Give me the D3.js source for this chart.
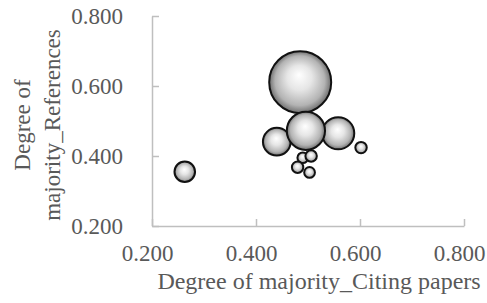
<!DOCTYPE html>
<html><head><meta charset="utf-8">
<script src="https://cdn.jsdelivr.net/npm/d3@7"></script>
<style>html,body{margin:0;padding:0;background:#fff;} svg{display:block;}</style>
</head><body>
<script>
const xValues = [0.485, 0.440, 0.558, 0.496, 0.602, 0.263, 0.490, 0.506, 0.480, 0.503];
const yValues = [0.611, 0.441, 0.465, 0.472, 0.424, 0.355, 0.395, 0.400, 0.368, 0.353];
const sizes   = [100, 20, 27, 38, 3.4, 11, 3, 3.4, 3.4, 3];
const xTicks = [0.2, 0.4, 0.6, 0.8];
const yTicks = [0.2, 0.4, 0.6, 0.8];
const xTitle = "Degree of majority_Citing papers";
const yTitle = ["Degree of", "majority_References"];

const W = 487, H = 303;
const FONT = "Liberation Serif";
const svg = d3.select("body").append("svg").attr("width", W).attr("height", H);
const x = d3.scaleLinear().domain([0.2, 0.8]).range([152, 464]);
const y = d3.scaleLinear().domain([0.2, 0.8]).range([226, 16]);
const r = d3.scaleSqrt().domain([0, 100]).range([0, 31]);

const defs = svg.append("defs");
const g = defs.append("radialGradient").attr("id", "ball")
  .attr("cx", "50%").attr("cy", "50%").attr("r", "50%").attr("fx", "48%").attr("fy", "38%");
g.append("stop").attr("offset", "0%").attr("stop-color", "#ffffff");
g.append("stop").attr("offset", "40%").attr("stop-color", "#e6e6e6");
g.append("stop").attr("offset", "80%").attr("stop-color", "#b3b3b3");
g.append("stop").attr("offset", "100%").attr("stop-color", "#6e6e6e");

const axisColor = "#bfbfbf", textColor = "#595959";

// axes
const xa = svg.append("g").attr("transform", `translate(0,${y(0.2)})`)
  .call(d3.axisBottom(x).tickValues(xTicks).tickSizeInner(-7).tickSizeOuter(0).tickFormat(d3.format(".3f")));
const ya = svg.append("g").attr("transform", `translate(${x(0.2)},0)`)
  .call(d3.axisLeft(y).tickValues(yTicks).tickSizeInner(-7).tickSizeOuter(0).tickFormat(d3.format(".3f")));
[xa, ya].forEach(a => {
  a.attr("font-family", FONT).attr("font-size", 23);
  a.select(".domain").attr("stroke", axisColor).attr("stroke-width", 1.5);
  a.selectAll(".tick line").attr("stroke", axisColor).attr("stroke-width", 1.5);
  a.selectAll(".tick text").attr("fill", textColor).attr("font-family", FONT).attr("font-size", 23);
});
xa.selectAll(".tick text").attr("y", 35).attr("dy", 0).attr("dx", -5);
ya.selectAll(".tick text").attr("x", -29).attr("dy", "0.32em");

// bubbles
const data = xValues.map((v, i) => ({x: v, y: yValues[i], s: sizes[i]}));
svg.append("g").selectAll("circle").data(data).join("circle")
  .attr("cx", d => x(d.x)).attr("cy", d => y(d.y)).attr("r", d => r(d.s))
  .attr("fill", "url(#ball)").attr("stroke", "#111").attr("stroke-width", 2);

// titles
svg.append("text").attr("x", 319).attr("y", 289).attr("text-anchor", "middle")
  .attr("fill", textColor).attr("font-family", FONT).attr("font-size", 24).text(xTitle);
const yt = svg.append("text").attr("transform", "translate(0,125) rotate(-90)")
  .attr("text-anchor", "middle").attr("fill", textColor).attr("font-family", FONT).attr("font-size", 23);
yt.append("tspan").attr("x", 0).attr("y", 30).text(yTitle[0]);
yt.append("tspan").attr("x", 0).attr("y", 60).text(yTitle[1]);
</script>
</body></html>
